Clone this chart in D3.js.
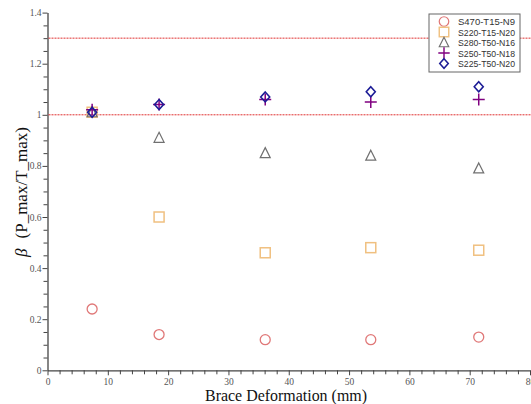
<!DOCTYPE html>
<html>
<head>
<meta charset="utf-8">
<script src="https://cdn.jsdelivr.net/npm/d3@7"></script>
<style>
  body { margin: 0; background: #fff; }
  svg { display: block; }
</style>
</head>
<body>
<div id="grafico"></div>
<script>
// deformation steps (mm)
const deformacao = [7.4, 18.5, 36.1, 53.6, 71.5];

const seriesNomes = ["S470-T15-N9", "S220-T15-N20", "S280-T50-N16", "S250-T50-N18", "S225-T50-N20"];
const s470 = [0.24, 0.14, 0.12, 0.12, 0.13];
const s220 = [1.01, 0.60, 0.46, 0.48, 0.47];
const s280 = [1.01, 0.91, 0.85, 0.84, 0.79];
const s250 = [1.02, 1.04, 1.06, 1.05, 1.06];
const s225 = [1.01, 1.04, 1.07, 1.09, 1.11];

const linhasRef = [1.0, 1.3];
const yTicks = [0, 0.2, 0.4, 0.6, 0.8, 1, 1.2, 1.4];
const xTicks = [0, 10, 20, 30, 40, 50, 60, 70, 80];

const width = 531;
const height = 404;

const svg = d3.select("#grafico")
  .append("svg")
  .attr("width", width)
  .attr("height", height);

const x = d3.scaleLinear().domain([0, 80]).range([47.5, 530]);
const y = d3.scaleLinear().domain([0, 1.4]).range([370.3, 12.6]);

const corEixo = "#444";

// minor ticks
const xMinor = d3.range(0, 81, 2).filter((v) => v % 10 !== 0);
const yMinor = d3.range(0, 29).map((i) => i * 0.05).filter((v, i) => i % 4 !== 0);

const xAxis = svg.append("g")
  .attr("transform", `translate(0,${y(0)})`)
  .call(d3.axisBottom(x).tickValues(xTicks).tickFormat(d3.format("d")).tickSize(5).tickSizeOuter(0));
svg.append("g")
  .attr("transform", `translate(0,${y(0)})`)
  .call(d3.axisBottom(x).tickValues(xMinor).tickFormat("").tickSize(4).tickSizeOuter(0))
  .select(".domain").remove();

const yAxis = svg.append("g")
  .attr("transform", `translate(${x(0)},0)`)
  .call(d3.axisLeft(y).tickValues(yTicks).tickFormat((d) => String(+d.toFixed(1))).tickSize(5).tickSizeOuter(0));
svg.append("g")
  .attr("transform", `translate(${x(0)},0)`)
  .call(d3.axisLeft(y).tickValues(yMinor).tickFormat("").tickSize(4).tickSizeOuter(0))
  .select(".domain").remove();

svg.selectAll(".domain").attr("stroke", corEixo).attr("stroke-width", 1.3);
svg.selectAll(".tick line").attr("stroke", corEixo);
svg.selectAll(".tick text")
  .attr("fill", "#555")
  .style("font-family", "'Liberation Serif', serif")
  .style("font-size", "9.5px");
xAxis.selectAll(".tick text").attr("y", 8).attr("dy", "0.68em");
yAxis.selectAll(".tick text").attr("x", -6);

// reference lines
svg.selectAll(".ref")
  .data(linhasRef)
  .enter()
  .append("line")
  .attr("class", "ref")
  .attr("x1", x(0) + 1)
  .attr("x2", width)
  .attr("y1", (d) => y(d))
  .attr("y2", (d) => y(d))
  .attr("stroke", "#e03030")
  .attr("stroke-width", 1)
  .attr("stroke-dasharray", "2,1");

// symbols
const estilos = [
  { dados: s470, cor: "#e07878", forma: "circulo" },
  { dados: s220, cor: "#f0c080", forma: "quadrado" },
  { dados: s280, cor: "#707070", forma: "triangulo" },
  { dados: s250, cor: "#800080", forma: "mais" },
  { dados: s225, cor: "#1c1c96", forma: "losango" },
];

function desenharSimbolo(g, forma, cor) {
  if (forma === "circulo") {
    g.append("circle").attr("r", 5).attr("fill", "none").attr("stroke", cor).attr("stroke-width", 1.3);
  } else if (forma === "quadrado") {
    g.append("rect").attr("x", -5).attr("y", -5).attr("width", 10).attr("height", 10)
      .attr("fill", "none").attr("stroke", cor).attr("stroke-width", 1.5);
  } else if (forma === "triangulo") {
    g.append("path").attr("d", "M0,-5.5L5,4.5L-5,4.5Z").attr("fill", "none").attr("stroke", cor).attr("stroke-width", 1.2);
  } else if (forma === "mais") {
    g.append("path").attr("d", "M0,-6V6M-6,0H6").attr("fill", "none").attr("stroke", cor).attr("stroke-width", 1.5);
  } else if (forma === "losango") {
    g.append("path").attr("d", "M0,-5L4.5,0L0,5L-4.5,0Z").attr("fill", "none").attr("stroke", cor).attr("stroke-width", 1.6);
  }
}

estilos.forEach((s) => {
  s.dados.forEach((v, i) => {
    const g = svg.append("g").attr("transform", `translate(${x(deformacao[i])},${y(v)})`);
    desenharSimbolo(g, s.forma, s.cor);
  });
});

// legend
const legenda = svg.append("g").attr("transform", "translate(429,14)");
legenda.append("rect")
  .attr("width", 91)
  .attr("height", 58)
  .attr("fill", "#fff")
  .attr("stroke", "#666")
  .attr("stroke-width", 1);

estilos.forEach((s, i) => {
  const linha = legenda.append("g").attr("transform", `translate(0,${7.5 + i * 10.5})`);
  const simb = linha.append("g").attr("transform", "translate(15,0) scale(0.95)");
  desenharSimbolo(simb, s.forma, s.cor);
  linha.append("text")
    .attr("x", 29)
    .attr("y", 3.5)
    .attr("fill", "#333")
    .style("font-family", "'Liberation Sans', sans-serif")
    .style("font-size", "9.5px")
    .attr("textLength", 57)
    .attr("lengthAdjust", "spacingAndGlyphs")
    .text(seriesNomes[i]);
});

// axis titles
svg.append("text")
  .attr("x", 286)
  .attr("y", 401)
  .attr("text-anchor", "middle")
  .attr("fill", "#111")
  .style("font-family", "'Liberation Serif', serif")
  .style("font-size", "16px")
  .attr("textLength", 162)
  .attr("lengthAdjust", "spacingAndGlyphs")
  .text("Brace Deformation (mm)");

const yTitulo = svg.append("text")
  .attr("transform", "translate(27,192) rotate(-90)")
  .attr("text-anchor", "middle")
  .attr("fill", "#111")
  .style("font-family", "'Liberation Serif', serif")
  .style("font-size", "17px");
yTitulo.append("tspan").style("font-style", "italic").text("β");
yTitulo.append("tspan").attr("dx", 10).text("(P_max/T_max)");
</script>
</body>
</html>
